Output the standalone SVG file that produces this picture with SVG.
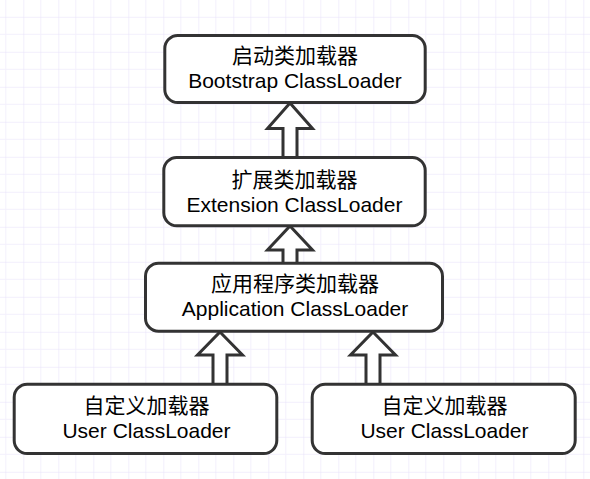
<svg xmlns="http://www.w3.org/2000/svg" width="590" height="479" viewBox="0 0 590 479">
<style>
.box{fill:#ffffff;stroke:#333333;stroke-width:3}
.arr{fill:#ffffff;stroke:#333333;stroke-width:3;stroke-linejoin:miter}
.t{font-family:"Liberation Sans","Noto Sans CJK SC",sans-serif;font-size:21px;fill:#000000;text-anchor:middle}
</style>
<defs>
<pattern id="grid" patternUnits="userSpaceOnUse" x="23.3" y="16.8" width="35" height="35">
<line x1="17.5" y1="0" x2="17.5" y2="35" stroke="#f3f0fc" stroke-width="1"/>
<line x1="0" y1="17.5" x2="35" y2="17.5" stroke="#f3f0fc" stroke-width="1"/>
<line x1="0" y1="0" x2="0" y2="35" stroke="#e6e0f9" stroke-width="1"/>
<line x1="0" y1="0" x2="35" y2="0" stroke="#e6e0f9" stroke-width="1"/>
</pattern>
</defs>
<rect x="0" y="0" width="590" height="479" fill="#ffffff"/>
<rect x="0" y="0" width="590" height="479" fill="url(#grid)"/>
<g id="connectors">
<path class="arr" d="M290,103 L312.5,128.5 L297,128.5 L297,158 L283,158 L283,128.5 L267.5,128.5 Z"/>
<path class="arr" d="M290,226 L312.5,250 L297,250 L297,264 L283,264 L283,250 L267.5,250 Z"/>
<path class="arr" d="M220,332 L242.5,355 L227,355 L227,385 L213,385 L213,355 L197.5,355 Z"/>
<path class="arr" d="M373,332 L395.5,355 L380,355 L380,385 L366,385 L366,355 L350.5,355 Z"/>
</g>
<g id="bootstrap">
<rect class="box" x="164.8" y="35.5" width="260.4" height="67" rx="13"/>
<text class="t" x="295" y="63">启动类加载器</text>
<text class="t" x="295" y="88.3">Bootstrap ClassLoader</text>
</g>
<g id="extension">
<rect class="box" x="163.8" y="157.5" width="261.4" height="68.3" rx="13"/>
<text class="t" x="294.5" y="186.5">扩展类加载器</text>
<text class="t" x="294.5" y="211.7">Extension ClassLoader</text>
</g>
<g id="application">
<rect class="box" x="145.5" y="263.2" width="297" height="68" rx="13"/>
<text class="t" x="295" y="291.3">应用程序类加载器</text>
<text class="t" x="295" y="316">Application ClassLoader</text>
</g>
<g id="user1">
<rect class="box" x="14.2" y="384.2" width="262.6" height="69.3" rx="13"/>
<text class="t" x="146.5" y="413">自定义加载器</text>
<text class="t" x="146.5" y="438.3">User ClassLoader</text>
</g>
<g id="user2">
<rect class="box" x="312.2" y="384.2" width="263" height="69.3" rx="13"/>
<text class="t" x="444.5" y="413">自定义加载器</text>
<text class="t" x="444.5" y="438.3">User ClassLoader</text>
</g>
</svg>
